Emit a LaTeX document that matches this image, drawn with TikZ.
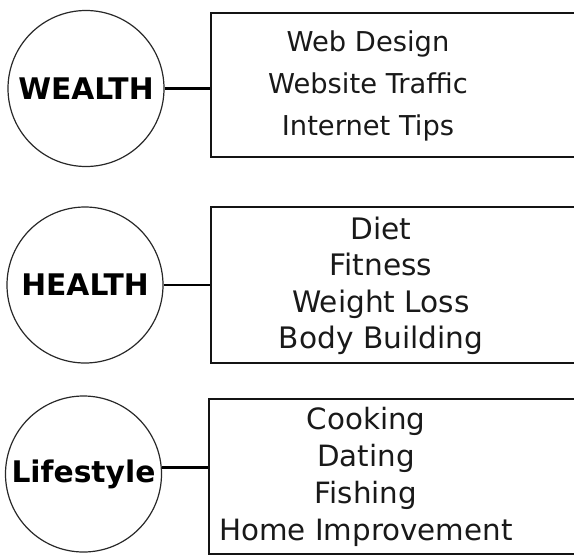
\documentclass[tikz,border=0pt]{standalone}
\usepackage{fontspec}
\setmainfont{DejaVu Sans}

\begin{document}
\begin{tikzpicture}[x=0.75pt,y=0.75pt,yscale=-1,xscale=1,
  topic/.style={draw={rgb, 255:red, 40; green, 40; blue, 40 },line width=0.9pt,circle,minimum size=117pt,inner sep=0pt,font=\fontsize{22.3}{26}\selectfont\bfseries},
  listbox/.style={draw={rgb, 255:red, 20; green, 20; blue, 20 },line width=1.3pt,rectangle,anchor=north west,inner sep=0pt},
  listtext/.style={align=center,inner sep=0pt,text={rgb, 255:red, 25; green, 25; blue, 25 }},
  link/.style={line width=2.2pt}]
\useasboundingbox (0,0) rectangle (574,554);
\clip (0,0) rectangle (574,554);

%Shape: Circle [WEALTH]
\node [topic] (wealth) at (86,88.5) {WEALTH};
%Shape: Rectangle
\node [listbox,minimum width=276pt,minimum height=108pt] (wbox) at (210,12) {};
% Text Node
\node [listtext,font=\fontsize{20.5}{31.5}\selectfont] (wlist) at (368,86) {Web Design\\Website Traffic\\Internet Tips};

%Shape: Circle [HEALTH]
\node [topic] (health) at (85,285) {HEALTH};
%Shape: Rectangle
\node [listbox,minimum width=276pt,minimum height=117pt] (hbox) at (210,206) {};
% Text Node
\node [listtext,font=\fontsize{22.2}{27.4}\selectfont] (hlist) at (381,286) {Diet\\Fitness\\Weight Loss\\Body Building};

%Shape: Circle [Lifestyle]
\node [topic] (lifestyle) at (83.5,474) {Lifestyle};
%Shape: Rectangle
\node [listbox,minimum width=277.5pt,minimum height=116.25pt] (lbox) at (208,398) {};
% Text Node
\node [listtext,font=\fontsize{22}{27.8}\selectfont] (llist) at (366,477) {Cooking\\Dating\\Fishing\\Home Improvement};

%Straight Lines
\draw [link] (wealth.east) -- (wealth.east -| wbox.west);
\draw [link] (health.east) -- (health.east -| hbox.west);
\draw [link] (lifestyle.5) -- (lifestyle.5 -| lbox.west);

\end{tikzpicture}
\end{document}
